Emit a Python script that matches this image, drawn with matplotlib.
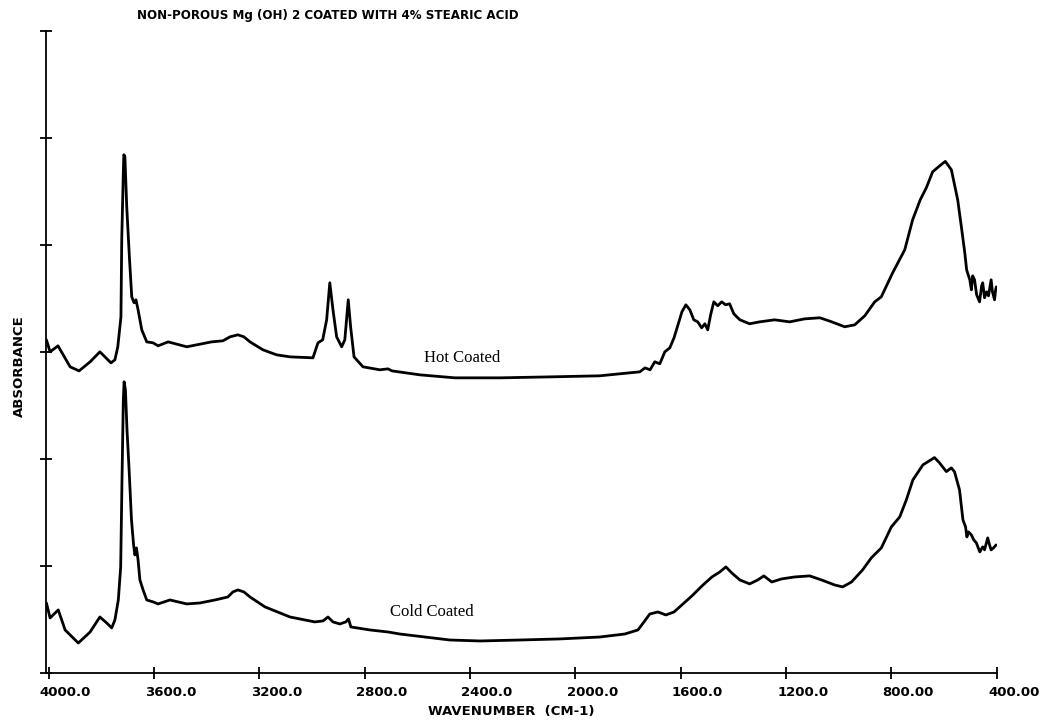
import matplotlib
matplotlib.use("Agg")
import matplotlib.pyplot as plt
from matplotlib.transforms import ScaledTranslation

# IR absorbance spectra, wavenumber in cm-1, absorbance in axis-tick units
hot_wavenumber = [
    4008, 3994, 3964, 3918, 3884, 3842, 3805, 3782, 3763, 3748, 3737, 3725,
    3722, 3716, 3714, 3710, 3703, 3693, 3684, 3675, 3668, 3660, 3646, 3627,
    3603, 3584, 3546, 3475, 3381, 3338, 3311, 3281, 3258, 3235, 3186, 3134,
    3083, 2996, 2977, 2959, 2944, 2932, 2920, 2906, 2887, 2875, 2862, 2853,
    2840, 2806, 2742, 2711, 2696, 2590, 2457, 2286, 2097, 1907, 1793, 1755,
    1735, 1716, 1698, 1679, 1660, 1641, 1625, 1610, 1595, 1580, 1565, 1550,
    1535, 1520, 1508, 1497, 1486, 1474, 1459, 1444, 1429, 1414, 1398, 1375,
    1338, 1300, 1243, 1186, 1129, 1071, 1026, 977, 939, 901, 863, 838, 795,
    749, 719, 690, 667, 643, 616, 595, 572, 548, 534, 521, 514, 502, 496,
    491, 484, 476, 465, 457, 453, 446, 438, 431, 421, 416, 408, 404, 401,
]
hot_absorbance = [
    3.112, 3.000, 3.056, 2.860, 2.822, 2.907, 3.000, 2.944, 2.897, 2.925,
    3.047, 3.327, 4.047, 4.673, 4.841, 4.822, 4.355, 3.888, 3.514, 3.458,
    3.486, 3.393, 3.206, 3.093, 3.084, 3.056, 3.093, 3.047, 3.093, 3.103,
    3.140, 3.159, 3.140, 3.093, 3.019, 2.972, 2.953, 2.944, 3.084, 3.112,
    3.299, 3.645, 3.393, 3.140, 3.047, 3.112, 3.486, 3.234, 2.953, 2.860,
    2.832, 2.841, 2.822, 2.785, 2.757, 2.757, 2.766, 2.776, 2.804, 2.813,
    2.850, 2.832, 2.907, 2.888, 3.000, 3.037, 3.131, 3.252, 3.374, 3.439,
    3.393, 3.299, 3.280, 3.224, 3.262, 3.206, 3.346, 3.467, 3.430, 3.467,
    3.439, 3.449, 3.355, 3.299, 3.262, 3.280, 3.299, 3.280, 3.308, 3.318,
    3.280, 3.234, 3.252, 3.336, 3.467, 3.514, 3.738, 3.953, 4.234, 4.421,
    4.533, 4.682, 4.738, 4.779, 4.701, 4.421, 4.168, 3.925, 3.766, 3.673,
    3.579, 3.710, 3.673, 3.533, 3.467, 3.617, 3.645, 3.505, 3.561, 3.523,
    3.673, 3.561, 3.486, 3.579, 3.607,
]

cold_wavenumber = [
    4008, 3994, 3963, 3937, 3887, 3842, 3805, 3779, 3760, 3748, 3735, 3726,
    3721, 3716, 3713, 3708, 3702, 3694, 3685, 3677, 3672, 3666, 3660, 3653,
    3641, 3627, 3603, 3584, 3539, 3475, 3425, 3368, 3319, 3300, 3281, 3258,
    3235, 3178, 3083, 2989, 2958, 2939, 2920, 2894, 2871, 2861, 2852, 2780,
    2711, 2666, 2476, 2362, 2211, 2059, 1907, 1812, 1762, 1739, 1717, 1686,
    1656, 1625, 1595, 1557, 1519, 1481, 1451, 1428, 1406, 1375, 1338, 1307,
    1284, 1254, 1216, 1167, 1110, 1065, 1015, 985, 951, 909, 876, 838, 800,
    768, 743, 718, 680, 662, 636, 617, 591, 572, 560, 541, 528, 518, 513,
    507, 496, 487, 477, 464, 453, 446, 434, 427, 421, 412, 402,
]
cold_absorbance = [
    0.654, 0.514, 0.589, 0.402, 0.280, 0.383, 0.523, 0.467, 0.421, 0.495,
    0.682, 0.991, 1.804, 2.551, 2.720, 2.645, 2.271, 1.897, 1.430, 1.196,
    1.103, 1.168, 1.056, 0.869, 0.776, 0.682, 0.664, 0.645, 0.682, 0.645,
    0.654, 0.682, 0.710, 0.757, 0.776, 0.757, 0.710, 0.617, 0.523, 0.477,
    0.486, 0.523, 0.477, 0.458, 0.477, 0.505, 0.430, 0.402, 0.383, 0.364,
    0.308, 0.299, 0.308, 0.318, 0.336, 0.364, 0.402, 0.477, 0.551, 0.570,
    0.542, 0.570, 0.636, 0.720, 0.813, 0.897, 0.944, 0.991, 0.935, 0.869,
    0.832, 0.869, 0.907, 0.850, 0.879, 0.897, 0.907, 0.869, 0.822, 0.804,
    0.850, 0.963, 1.075, 1.168, 1.364, 1.458, 1.617, 1.804, 1.944, 1.972,
    2.012, 1.963, 1.881, 1.916, 1.879, 1.710, 1.430, 1.364, 1.271, 1.318,
    1.290, 1.243, 1.215, 1.131, 1.178, 1.150, 1.262, 1.196, 1.150, 1.168,
    1.196,
]

x_ticks = [4000, 3600, 3200, 2800, 2400, 2000, 1600, 1200, 800, 400]
x_tick_labels = ["4000.0", "3600.0", "3200.0", "2800.0", "2400.0",
                 "2000.0", "1600.0", "1200.0", "800.00", "400.00"]
y_ticks = [0, 1, 2, 3, 4, 5, 6]

title_text = "NON-POROUS Mg (OH) 2 COATED WITH 4% STEARIC ACID"
x_label = "WAVENUMBER  (CM-1)"
y_label = "ABSORBANCE"
hot_label = "Hot Coated"
cold_label = "Cold Coated"

fig = plt.figure(figsize=(10.5, 7.22), dpi=100)
ax = fig.add_axes([0.0437, 0.0679, 0.9055, 0.8896])

ax.plot(hot_wavenumber, hot_absorbance, color="black", lw=2.0,
        solid_joinstyle="round", solid_capstyle="round")
ax.plot(cold_wavenumber, cold_absorbance, color="black", lw=2.0,
        solid_joinstyle="round", solid_capstyle="round")

ax.set_xlim(4010, 400)
ax.set_ylim(0, 6)

for side in ("top", "right"):
    ax.spines[side].set_visible(False)
for side in ("left", "bottom"):
    ax.spines[side].set_linewidth(1.3)

ax.set_xticks(x_ticks)
ax.set_xticklabels(x_tick_labels, fontfamily="DejaVu Sans",
                   fontweight="bold", fontsize=9.5)
ax.set_yticks(y_ticks)
ax.set_yticklabels([])
ax.tick_params(axis="both", direction="inout", length=9, width=1.3)
ax.tick_params(axis="x", pad=5)

# plotter-style labels sit slightly to the right of their ticks
shift = ScaledTranslation(17 / 100, 0, fig.dpi_scale_trans)
for lbl in ax.get_xticklabels():
    lbl.set_transform(lbl.get_transform() + shift)

fig.text(0.3124, 0.979, title_text, ha="center", va="center",
         fontfamily="DejaVu Sans", fontweight="bold", fontsize=8.6)
fig.text(0.4871, 0.0139, x_label, ha="center", va="center",
         fontfamily="DejaVu Sans", fontweight="bold", fontsize=9.5)
fig.text(0.0181, 0.4931, y_label, ha="center", va="center", rotation=90,
         fontfamily="DejaVu Sans", fontweight="bold", fontsize=9.5)

ax.text(2431, 2.944, hot_label, ha="center", va="center",
        fontfamily="Liberation Serif", fontsize=12)
ax.text(2544, 0.570, cold_label, ha="center", va="center",
        fontfamily="Liberation Serif", fontsize=12)

fig.savefig("out.png", dpi=100)
